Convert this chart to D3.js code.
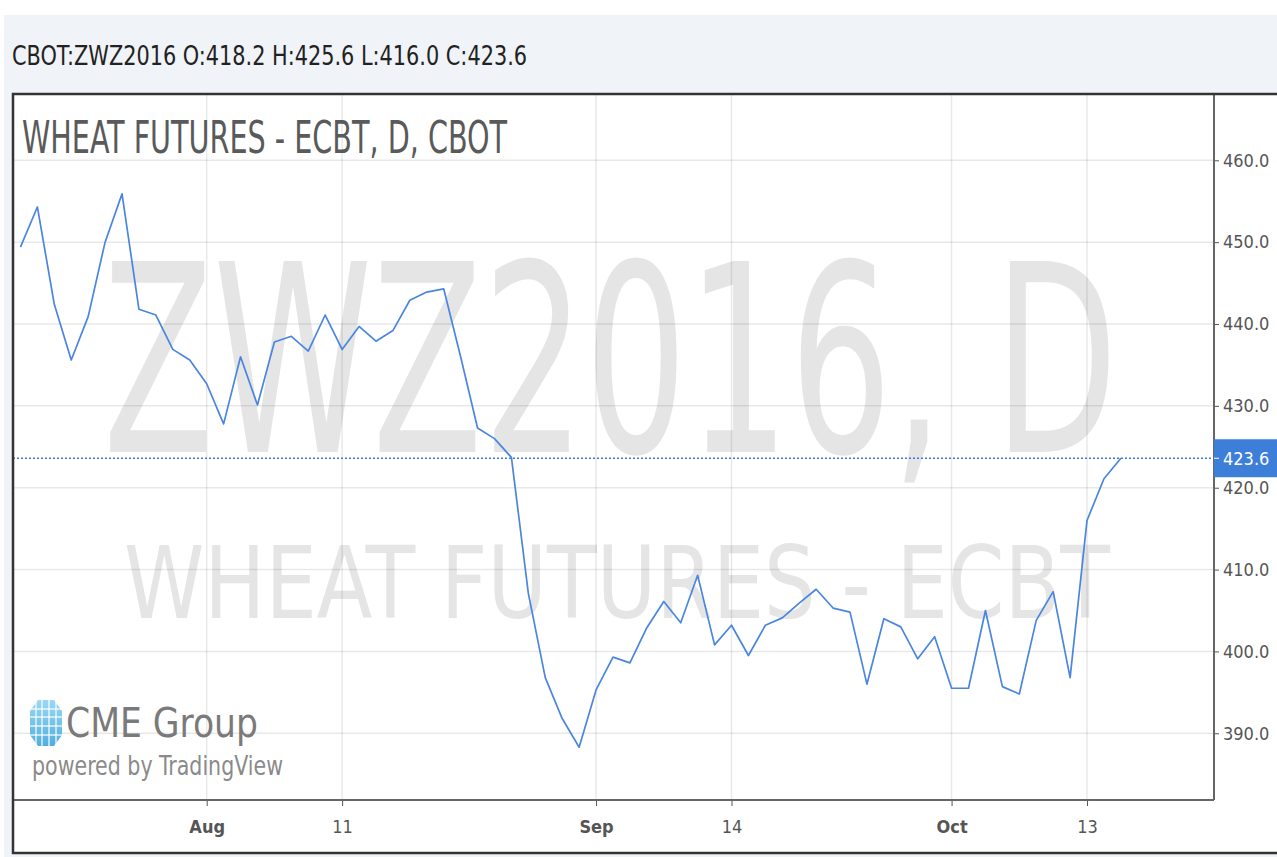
<!DOCTYPE html>
<html>
<head>
<meta charset="utf-8">
<script src="https://cdnjs.cloudflare.com/ajax/libs/d3/7.8.5/d3.min.js"></script>
<style>
  body { margin: 0; background: #ffffff; }
  svg { display: block; }
</style>
</head>
<body>
<svg id="canvas"></svg>
<script>
// Trading days shown on the chart.
var tradingDates = [
  '2016-07-15','2016-07-18','2016-07-19','2016-07-20','2016-07-21','2016-07-22',
  '2016-07-25','2016-07-26','2016-07-27','2016-07-28','2016-07-29',
  '2016-08-01','2016-08-02','2016-08-03','2016-08-04','2016-08-05',
  '2016-08-08','2016-08-09','2016-08-10','2016-08-11','2016-08-12',
  '2016-08-15','2016-08-16','2016-08-17','2016-08-18','2016-08-19',
  '2016-08-22','2016-08-23','2016-08-24','2016-08-25','2016-08-26',
  '2016-08-29','2016-08-30','2016-08-31',
  '2016-09-01','2016-09-02','2016-09-06','2016-09-07','2016-09-08','2016-09-09',
  '2016-09-12','2016-09-13','2016-09-14','2016-09-15','2016-09-16',
  '2016-09-19','2016-09-20','2016-09-21','2016-09-22','2016-09-23',
  '2016-09-26','2016-09-27','2016-09-28','2016-09-29','2016-09-30',
  '2016-10-03','2016-10-04','2016-10-05','2016-10-06','2016-10-07',
  '2016-10-10','2016-10-11','2016-10-12','2016-10-13','2016-10-14','2016-10-17'
];

// Daily closes.
var closes = [
  449.4, 454.3, 442.4, 435.6, 440.9, 450.0, 455.9, 441.8, 441.1, 436.9, 435.6,
  432.7, 427.8, 436.0, 430.1, 437.8, 438.5, 436.7, 441.1, 436.9, 439.7,
  437.9, 439.2, 442.9, 443.9, 444.3, 436.0, 427.3, 426.0, 423.7, 407.1,
  396.8, 391.8, 388.3, 395.3, 399.3, 398.6, 402.9, 406.1, 403.5, 409.3,
  400.8, 403.2, 399.5, 403.2, 404.1, 405.9, 407.6, 405.3, 404.8, 396.0,
  404.0, 403.0, 399.1, 401.8, 395.5, 395.5, 405.0, 395.7, 394.8, 403.8,
  407.3, 396.8, 416.0, 421.1, 423.6
];

// Axis ticks.
var xTickDates = ['2016-08-01','2016-08-11','2016-09-01','2016-09-14','2016-10-03','2016-10-13'];
var xTickLabels = ['Aug','11','Sep','14','Oct','13'];
var xTickBold = [true, false, true, false, true, false];
var yTickValues = [390, 400, 410, 420, 430, 440, 450, 460];

// Header values.
var symbol = 'CBOT:ZWZ2016';
var ohlc = ['O:418.2', 'H:425.6', 'L:416.0', 'C:423.6'];
var lastClose = 423.6;

// Canvas dimensions.
var canvasWidth = 1277;
var canvasHeight = 857;

// Plot box.
var plotLeft = 13;
var plotRight = 1214;
var plotTop = 94;
var plotBottom = 800;
var frameBottom = 853;

var font = '"DejaVu Sans Condensed", "DejaVu Sans", sans-serif';
var lineBlue = '#4a86e0';

var svg = d3.select('#canvas')
            .attr('width', canvasWidth)
            .attr('height', canvasHeight);

// Scales: one step per trading day.
var xScale = d3.scaleLinear()
               .domain([-0.44, 70.5])
               .range([plotLeft, plotRight]);

var yScale = d3.scaleLinear()
               .domain([381.85, 468.1])
               .range([plotBottom, plotTop]);

var translation = function(x, y) {
  return 'translate(' + x + ',' + y + ')';
}

// Page background.
svg.append('rect')
   .attr('x', 4).attr('y', 15)
   .attr('width', canvasWidth - 4).attr('height', canvasHeight - 15)
   .attr('fill', '#f0f3f7');

// Header line.
svg.append('text')
   .attr('x', 12).attr('y', 65)
   .attr('font-family', font)
   .attr('font-size', 27)
   .attr('fill', '#222')
   .attr('textLength', 515)
   .attr('lengthAdjust', 'spacingAndGlyphs')
   .text(symbol + ' ' + ohlc.join(' '));

// Chart panel.
svg.append('rect')
   .attr('x', plotLeft).attr('y', plotTop)
   .attr('width', canvasWidth - plotLeft).attr('height', frameBottom - plotTop)
   .attr('fill', '#ffffff');

// Watermarks.
svg.append('text')
   .attr('x', 103).attr('y', 452)
   .attr('font-family', font)
   .attr('font-size', 262)
   .attr('fill', '#e5e5e5')
   .attr('textLength', 1015)
   .attr('lengthAdjust', 'spacingAndGlyphs')
   .text('ZWZ2016, D');

svg.append('text')
   .attr('x', 124).attr('y', 618)
   .attr('font-family', font)
   .attr('font-size', 100)
   .attr('fill', '#e5e5e5')
   .attr('textLength', 986)
   .attr('lengthAdjust', 'spacingAndGlyphs')
   .text('WHEAT FUTURES - ECBT');

// Grid lines.
var tickIndex = xTickDates.map(function(d) { return tradingDates.indexOf(d); });

svg.append('g')
   .selectAll('line')
   .data(yTickValues)
   .enter()
   .append('line')
   .attr('x1', plotLeft).attr('x2', plotRight)
   .attr('y1', function(d) { return yScale(d); })
   .attr('y2', function(d) { return yScale(d); })
   .attr('stroke', '#000').attr('stroke-opacity', 0.09).attr('stroke-width', 1.5);

svg.append('g')
   .selectAll('line')
   .data(tickIndex)
   .enter()
   .append('line')
   .attr('x1', function(d) { return xScale(d); })
   .attr('x2', function(d) { return xScale(d); })
   .attr('y1', plotTop).attr('y2', plotBottom)
   .attr('stroke', '#000').attr('stroke-opacity', 0.09).attr('stroke-width', 1.5);

// Title.
svg.append('text')
   .attr('x', 22).attr('y', 153)
   .attr('font-family', font)
   .attr('font-size', 44)
   .attr('fill', '#5a5a5a')
   .attr('textLength', 485)
   .attr('lengthAdjust', 'spacingAndGlyphs')
   .text('WHEAT FUTURES - ECBT, D, CBOT');

// CME Group logo.
var logo = svg.append('g').attr('transform', translation(46, 723));
var grad = svg.append('defs').append('linearGradient')
              .attr('id', 'globe').attr('x1', 0).attr('y1', 0).attr('x2', 0).attr('y2', 1);
grad.append('stop').attr('offset', 0).attr('stop-color', '#9ad8f4');
grad.append('stop').attr('offset', 1).attr('stop-color', '#52aede');
logo.append('path')
    .attr('d', 'M-8,-23 L8,-23 L16,-12 L16,12 L8,23 L-8,23 L-16,12 L-16,-12 Z')
    .attr('fill', 'url(#globe)');
[-10, -4, 3, 10].forEach(function(dx) {
  logo.append('line').attr('x1', dx).attr('x2', dx).attr('y1', -23).attr('y2', 23)
      .attr('stroke', '#fff').attr('stroke-width', 1.2);
});
[-14, -6, 3, 12].forEach(function(dy) {
  logo.append('line').attr('x1', -16).attr('x2', 16).attr('y1', dy).attr('y2', dy)
      .attr('stroke', '#fff').attr('stroke-width', 1.2);
});
svg.append('text')
   .attr('x', 66).attr('y', 737)
   .attr('font-family', font)
   .attr('font-size', 40)
   .attr('fill', '#7a7a7a')
   .attr('textLength', 192)
   .attr('lengthAdjust', 'spacingAndGlyphs')
   .text('CME Group');
svg.append('text')
   .attr('x', 32).attr('y', 775)
   .attr('font-family', font)
   .attr('font-size', 27)
   .attr('fill', '#8a8a8a')
   .attr('textLength', 251)
   .attr('lengthAdjust', 'spacingAndGlyphs')
   .text('powered by TradingView');

// Last price dotted line.
svg.append('line')
   .attr('x1', plotLeft).attr('x2', plotRight)
   .attr('y1', yScale(lastClose)).attr('y2', yScale(lastClose))
   .attr('stroke', '#3c78d8').attr('stroke-width', 1.6)
   .attr('stroke-dasharray', '2,2');

// Price line.
var line = d3.line()
             .x(function(d, i) { return xScale(i); })
             .y(function(d) { return yScale(d); });

svg.append('path')
   .datum(closes)
   .attr('d', line)
   .attr('fill', 'none')
   .attr('stroke', lineBlue)
   .attr('stroke-width', 1.7)
   .attr('stroke-linejoin', 'round');

// Vertical axis (right).
var yAxis = d3.axisRight(yScale)
              .tickValues(yTickValues)
              .tickSize(5)
              .tickPadding(4)
              .tickFormat(d3.format('.1f'));
var yAxisG = svg.append('g')
                .attr('transform', translation(plotRight, 0))
                .call(yAxis);
yAxisG.select('.domain').remove();
yAxisG.selectAll('line').attr('stroke', '#555');
yAxisG.selectAll('text')
      .attr('font-family', font)
      .attr('font-size', 18)
      .attr('fill', '#555');

// Horizontal axis.
var xAxis = d3.axisBottom(xScale)
              .tickValues(tickIndex)
              .tickSize(6)
              .tickPadding(14)
              .tickFormat(function(d, i) { return xTickLabels[i]; });
var xAxisG = svg.append('g')
                .attr('transform', translation(0, plotBottom))
                .call(xAxis);
xAxisG.select('.domain').remove();
xAxisG.selectAll('line').attr('stroke', '#555');
xAxisG.selectAll('text')
      .attr('font-family', font)
      .attr('font-size', 18)
      .attr('font-weight', function(d, i) { return xTickBold[i] ? 'bold' : 'normal'; })
      .attr('fill', '#555');

// Axis lines.
svg.append('line')
   .attr('x1', plotRight).attr('x2', plotRight)
   .attr('y1', plotTop).attr('y2', plotBottom)
   .attr('stroke', '#666').attr('stroke-width', 2);
svg.append('line')
   .attr('x1', plotLeft).attr('x2', plotRight)
   .attr('y1', plotBottom).attr('y2', plotBottom)
   .attr('stroke', '#666').attr('stroke-width', 2);

// Last price tag.
var tagY = yScale(lastClose);
svg.append('rect')
   .attr('x', plotRight).attr('y', tagY - 19)
   .attr('width', canvasWidth - plotRight).attr('height', 38)
   .attr('fill', '#3d7ed9');
svg.append('line')
   .attr('x1', plotRight).attr('x2', plotRight + 5)
   .attr('y1', tagY).attr('y2', tagY)
   .attr('stroke', '#fff').attr('stroke-width', 1);
svg.append('text')
   .attr('x', plotRight + 9).attr('y', tagY)
   .attr('dy', '0.35em')
   .attr('font-family', font)
   .attr('font-size', 18)
   .attr('fill', '#fff')
   .text(d3.format('.1f')(lastClose));

// Outer frame.
svg.append('path')
   .attr('d', 'M' + canvasWidth + ',' + plotTop + ' H' + plotLeft + ' V' + frameBottom + ' H' + canvasWidth)
   .attr('fill', 'none')
   .attr('stroke', '#333')
   .attr('stroke-width', 2.5);
</script>
</body>
</html>
